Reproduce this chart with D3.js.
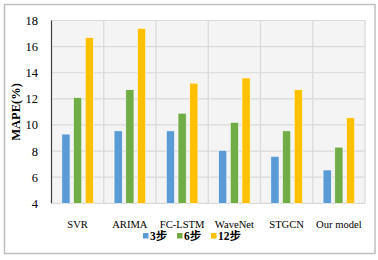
<!DOCTYPE html>
<html>
<head>
<meta charset="utf-8">
<script src="https://cdn.jsdelivr.net/npm/d3@7"></script>
<style>
  body { margin: 0; background: #fff; }
  svg { display: block; }
</style>
</head>
<body>
<svg width="378" height="260"></svg>
<script>
// categories and series
const models = ['SVR', 'ARIMA', 'FC-LSTM', 'WaveNet', 'STGCN', 'Our model'];
const steps = ['3步', '6步', '12步'];
const mape3 = [9.3, 9.55, 9.55, 8.05, 7.6, 6.55];
const mape6 = [12.1, 12.7, 10.9, 10.2, 9.55, 8.3];
const mape12 = [16.7, 17.4, 13.2, 13.6, 12.7, 10.55];
const yTicks = [4, 6, 8, 10, 12, 14, 16, 18];
const colors = ['#5b9bd5', '#70ad47', '#ffc000'];

const series = [mape3, mape6, mape12];
const serif = "'Liberation Serif', 'Times New Roman', serif";

const svg = d3.select('svg');

// outer frame
svg.append('rect')
    .attr('x', 4.5).attr('y', 4.5)
    .attr('width', 370.5).attr('height', 249)
    .style('fill', '#fff')
    .style('stroke', '#bfbfbf')
    .style('stroke-width', 1.5);

const plotL = 51.5, plotR = 365, plotT = 20.5, plotB = 203.3;

const x = d3.scaleBand().domain(models).range([plotL, plotR]);
const xs = d3.scaleBand().domain(steps).range([0, x.bandwidth()])
    .paddingInner(0.3).paddingOuter(0.885);
const y = d3.scaleLinear().domain([4, 18]).range([plotB, plotT]);

// plot background
svg.append('rect')
    .attr('x', plotL).attr('y', plotT)
    .attr('width', plotR - plotL).attr('height', plotB - plotT)
    .style('fill', '#f4f4f4');

// horizontal gridlines
svg.append('g')
    .selectAll('line')
    .data(yTicks)
    .join('line')
    .attr('x1', plotL).attr('x2', plotR)
    .attr('y1', d => y(d)).attr('y2', d => y(d))
    .style('stroke', '#d9d9d9')
    .style('stroke-width', 1.2);

// vertical gridlines at category edges
svg.append('g')
    .selectAll('line')
    .data(models.slice(1).concat(['end']))
    .join('line')
    .attr('x1', d => d === 'end' ? plotR : x(d))
    .attr('x2', d => d === 'end' ? plotR : x(d))
    .attr('y1', plotT).attr('y2', plotB)
    .style('stroke', '#d9d9d9')
    .style('stroke-width', 1.2);

// bars
const groups = svg.append('g')
    .selectAll('g')
    .data(steps)
    .join('g')
    .style('fill', (d, i) => colors[i]);

groups.selectAll('rect')
    .data((s, i) => series[i].map((v, j) => ({ step: s, model: models[j], v })))
    .join('rect')
    .attr('x', d => x(d.model) + xs(d.step))
    .attr('width', xs.bandwidth())
    .attr('y', d => y(d.v))
    .attr('height', d => y(4) - y(d.v))
    .style('stroke', '#fafafa')
    .style('stroke-width', 0.6);

// y axis line
svg.append('line')
    .attr('x1', plotL).attr('x2', plotL)
    .attr('y1', plotT).attr('y2', plotB)
    .style('stroke', '#404040')
    .style('stroke-width', 1.2);

// y tick labels
svg.append('g')
    .selectAll('text')
    .data(yTicks)
    .join('text')
    .attr('x', 38)
    .attr('y', d => y(d) + 4.5)
    .attr('text-anchor', 'end')
    .style('font-family', serif)
    .style('font-size', '12.5px')
    .style('fill', '#000')
    .text(d => d);

// x category labels
svg.append('g')
    .selectAll('text')
    .data(models)
    .join('text')
    .attr('x', d => x(d) + x.bandwidth() / 2)
    .attr('y', 227.5)
    .attr('text-anchor', 'middle')
    .style('font-family', serif)
    .style('font-size', '10.6px')
    .style('fill', '#000')
    .text(d => d);

// y axis title
svg.append('text')
    .attr('transform', 'translate(19.5,112) rotate(-90)')
    .attr('text-anchor', 'middle')
    .style('font-family', serif)
    .style('font-size', '12.5px')
    .style('font-weight', 'bold')
    .text('MAPE(%)');

// legend
const legendX = [143, 177, 211];
const legend = svg.append('g')
    .selectAll('g')
    .data(steps)
    .join('g')
    .attr('transform', (d, i) => `translate(${legendX[i]},233)`);

legend.append('rect')
    .attr('width', 5.5).attr('height', 5.5)
    .style('fill', (d, i) => colors[i]);

legend.append('text')
    .attr('x', 7)
    .attr('y', 6.5)
    .style('font-family', "'Liberation Serif', 'Noto Sans CJK SC', serif")
    .style('font-size', '11.5px')
    .style('font-weight', 'bold')
    .text(d => d);
</script>
</body>
</html>
